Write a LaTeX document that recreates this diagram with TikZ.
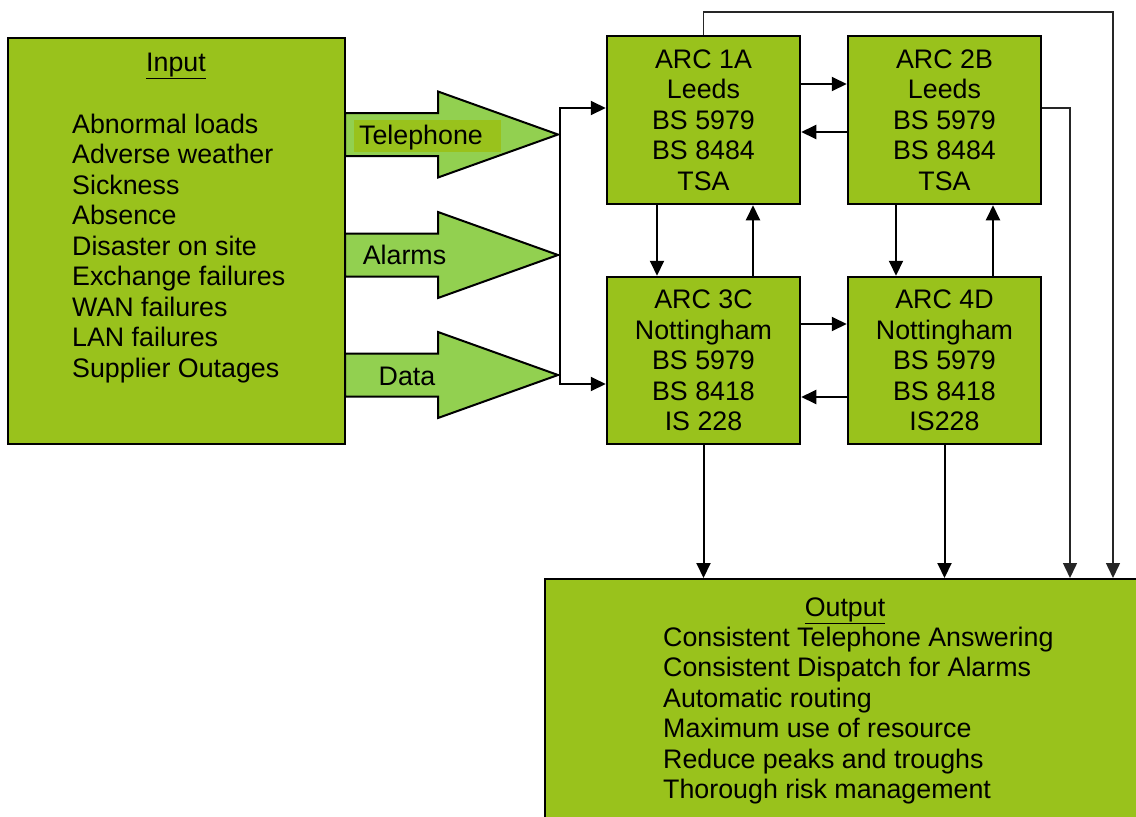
\documentclass[tikz,border=0pt]{standalone}
\usepackage{fontspec}
\setmainfont{Liberation Sans}
\usetikzlibrary{arrows.meta}
\definecolor{arcgreen}{HTML}{99C21C}
\definecolor{pipegreen}{HTML}{92D050}
\tikzset{arcbox/.style={draw,line width=2.5pt,fill=arcgreen,minimum width=193pt,minimum height=167pt,inner sep=0pt,align=center,font=\fontsize{26.8}{30.5}\selectfont,execute at begin node={\rule{0pt}{22pt}}}}
\tikzstyle{listbox}=[draw,line width=2pt,fill=arcgreen,inner sep=0pt]
\tikzstyle{pipe}=[draw,line width=2pt,fill=pipegreen,line join=miter]
\tikzstyle{txt}=[inner sep=0pt,anchor=base,font=\fontsize{26.8}{30.5}\selectfont]
\tikzstyle{conn}=[line width=2pt]
\tikzstyle{backlink}=[->,line width=1.5pt,draw=black!85]

\begin{document}
\begin{tikzpicture}[x=1pt,y=-1pt]
			\useasboundingbox (0,0) rectangle (1136,817);
			\clip (0,0) rectangle (1136,817);
			\begin{scope}[>={Triangle[length=15pt,width=14pt]}] %for filled arrow tips
				\node (input)[listbox,minimum width=337pt,minimum height=406pt] at (176.5,241) {};
				\node (output)[listbox,minimum width=597pt,minimum height=246pt] at (843.5,702) {};
				\node (inTitle)[txt] at (176,71) {\underline{Input}};
				\foreach \entry [count=\i from 0] in {Abnormal loads, Adverse weather, Sickness, Absence, Disaster on site, Exchange failures, WAN failures, LAN failures, Supplier Outages}{
					\node (in\i)[txt,anchor=base west] at (72,{133+30.5*\i}) {\entry};
				}
				\node (outTitle)[txt] at (845,616) {\underline{Output}};
				\foreach \entry [count=\i from 0] in {Consistent Telephone Answering, Consistent Dispatch for Alarms, Automatic routing, Maximum use of resource, Reduce peaks and troughs, Thorough risk management}{
					\node (out\i)[txt,anchor=base west] at (663,{646+30.5*\i}) {\entry};
				}
				\node (arc1)[arcbox,minimum height=168pt] at (703.5,120) {ARC 1A\\Leeds\\BS 5979\\BS 8484\\TSA};
				\node (arc2)[arcbox,minimum height=168pt] at (944.5,120) {ARC 2B\\Leeds\\BS 5979\\BS 8484\\TSA};
				\node (arc3)[arcbox] at (703.5,360.5) {ARC 3C\\Nottingham\\BS 5979\\BS 8418\\IS 228};
				\node (arc4)[arcbox] at (944.5,360.5) {ARC 4D\\Nottingham\\BS 5979\\BS 8418\\IS228};
				\foreach \c/\name in {134.5/Telephone, 255/Alarms, 375/Data}{
					\draw[pipe] (345,{\c-21.5}) -- (438,{\c-21.5}) -- (438,{\c-43}) -- (558,\c) -- (438,{\c+43}) -- (438,{\c+21.5}) -- (345,{\c+21.5}) -- cycle;
					\coordinate (tip\name) at (558,\c);
				}
				\fill[arcgreen] (354,120) rectangle (501,152);
				\node (lblTelephone)[txt] at (421,144) {Telephone};
				\node (lblAlarms)[txt] at (404.5,264) {Alarms};
				\node (lblData)[txt] at (407,385) {Data};
				\coordinate (busTop) at (560,108);
				\coordinate (busBot) at (560,384);
				\draw[<->,conn] (arc1.west |- busTop) -- (busTop) -- (busBot) -- (arc3.west |- busBot);
				\draw[->,conn] (arc1.east |- 0,84) -- (arc2.west |- 0,84);
				\draw[->,conn] (arc2.west |- 0,132) -- (arc1.east |- 0,132);
				\draw[->,conn] (arc3.east |- 0,324) -- (arc4.west |- 0,324);
				\draw[->,conn] (arc4.west |- 0,397) -- (arc3.east |- 0,397);
				\draw[->,conn] (arc1.south -| 657,0) -- (arc3.north -| 657,0);
				\draw[->,conn] (arc3.north -| 753,0) -- (arc1.south -| 753,0);
				\draw[->,conn] (arc2.south -| 896,0) -- (arc4.north -| 896,0);
				\draw[->,conn] (arc4.north -| 993,0) -- (arc2.south -| 993,0);
				\draw[->,conn] (arc3.south) -- (arc3.south |- output.north);
				\draw[->,conn] (arc4.south) -- (arc4.south |- output.north);
				\coordinate (loopTop) at (1113,12);
				\coordinate (sideTurn) at (1070,108);
				\draw[backlink] (arc1.north) |- (loopTop) -- (loopTop |- output.north);
				\draw[backlink] (arc2.east |- sideTurn) -- (sideTurn) -- (sideTurn |- output.north);
			\end{scope}
		\end{tikzpicture}
\end{document}
